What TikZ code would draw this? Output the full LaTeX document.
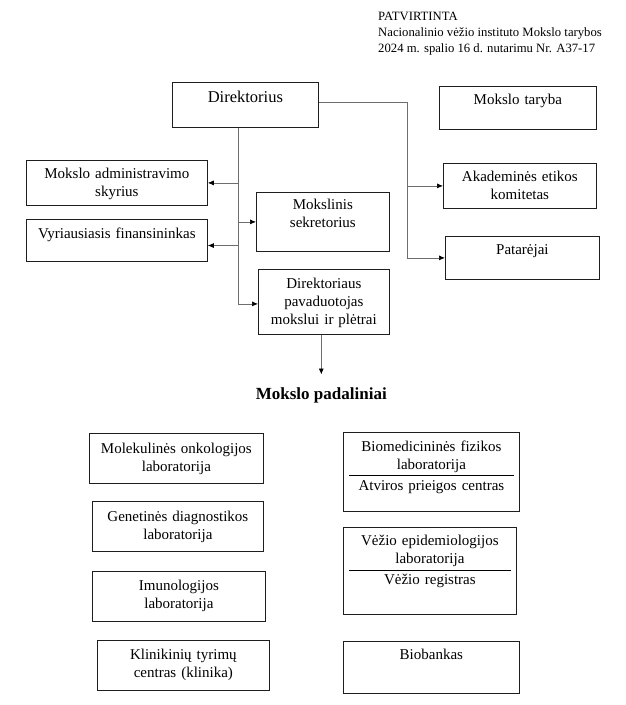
\documentclass[tikz,border=0pt]{standalone}
\usepackage{fontspec}
\setmainfont{Liberation Serif}
\usepackage{xcolor}
\usepackage{tikz}
\usetikzlibrary{arrows.meta, positioning, calc}
\definecolor{boxline}{RGB}{30, 30, 30}
\definecolor{linkgray}{RGB}{110, 110, 110}
\tikzstyle{box} = [
    rectangle,
    draw=boxline,
    line width=0.8pt,
    align=center,
    anchor=north west,
    inner xsep=0pt,
    inner ysep=0pt,
    font=\fontsize{15}{18}\selectfont
]
\tikzstyle{link} = [
    line width=0.7pt,
    color=linkgray
]
\tikzstyle{arrow} = [
    link,
    -{Latex[length=6pt, width=5pt, color=black]}
]
\tikzstyle{sepline} = [
    line width=0.7pt,
    color=black
]

\begin{document}
\begin{tikzpicture}[x=1pt, y=-1pt]
        \useasboundingbox (0,0) rectangle (626,705);
        % Approval note
        \node[anchor=base west, align=left, inner sep=0pt, font=\fontsize{12.7}{16.2}\selectfont] (approval) at (378,52.6)
            {PATVIRTINTA\\Nacionalinio vėžio instituto Mokslo tarybos\\2024 m. spalio 16 d. nutarimu Nr. A37-17};

        % Management
        \node[box, text width=146pt, text height=19.7pt, text depth=25.3pt, font=\fontsize{16.5}{20}\selectfont] (director) at (172,82) {Direktorius};
        \node[box, text width=157pt, text height=18pt, text depth=25pt] (council) at (439,86) {Mokslo taryba};
        \node[box, text width=153pt, text height=18.2pt, text depth=26.8pt] (ethics) at (443,163) {Akademinės etikos\\komitetas};
        \node[box, text width=154pt, text height=18.5pt, text depth=24.5pt] (advisers) at (445,236) {Patarėjai};
        \node[box, text width=181pt, text height=18.5pt, text depth=26.5pt] (admin) at (26,160) {Mokslo administravimo\\skyrius};
        \node[box, text width=181pt, text height=19.2pt, text depth=22.5pt] (finance) at (26,219.3) {Vyriausiasis finansininkas};
        \node[box, text width=133pt, text height=17.5pt, text depth=41.5pt] (secretary) at (256,192) {Mokslinis\\sekretorius};
        \node[box, text width=131pt, text height=19.5pt, text depth=45.5pt] (deputy) at (258,269) {Direktoriaus\\pavaduotojas\\mokslui ir plėtrai};

        % Research units
        \node[anchor=base, inner sep=0pt, text height=12pt, text depth=4pt, outer ysep=13pt, font=\bfseries\fontsize{17}{20}\selectfont] (units) at (321.3,399.5) {Mokslo padaliniai};
        \node[box, text width=174pt, text height=19.8pt, text depth=30.2pt] (molec) at (89,433) {Molekulinės onkologijos\\laboratorija};
        \node[box, text width=171pt, text height=20.2pt, text depth=29.8pt] (genetic) at (92,501) {Genetinės diagnostikos\\laboratorija};
        \node[box, text width=173pt, text height=19.2pt, text depth=30.8pt] (immuno) at (92,571) {Imunologijos\\laboratorija};
        \node[box, text width=172pt, text height=19.5pt, text depth=30.5pt] (clinic) at (97,640) {Klinikinių tyrimų\\centras (klinika)};
        \node[box, text width=176pt, text height=19.2pt, text depth=59.8pt] (biomed) at (343,432) {Biomedicininės fizikos\\laboratorija\\[3pt]Atviros prieigos centras};
        \node[box, text width=173pt, text height=18.5pt, text depth=68.5pt] (epidem) at (343,527) {Vėžio epidemiologijos\\laboratorija\\[3pt]Vėžio registras};
        \node[box, text width=176pt, text height=18.5pt, text depth=33.5pt] (biobank) at (343,641) {Biobankas};

        % Separators
        \draw[sepline] ([xshift=6pt, yshift=-43pt]biomed.north west) -- ([xshift=-6pt, yshift=-43pt]biomed.north east);
        \draw[sepline] ([xshift=6pt, yshift=-43pt]epidem.north west) -- ([xshift=-6pt, yshift=-43pt]epidem.north east);

        % Arrows
        \coordinate (ltrunk) at ([xshift=-7.3pt]director.south);
        \coordinate (rtrunk) at ([xshift=89pt, yshift=2.2pt]director.east);
        \coordinate (finarrow) at ([yshift=-5pt]finance.east);
        \draw[arrow] (ltrunk) |- ([yshift=-2pt]deputy.west);
        \draw[arrow] (ltrunk |- admin.east) -- (admin.east);
        \draw[arrow] (ltrunk |- secretary.west) -- (secretary.west);
        \draw[arrow] (ltrunk |- finarrow) -- (finarrow);
        \draw[arrow] ([yshift=2.2pt]director.east) -- (rtrunk) |- (advisers.west);
        \draw[arrow] (rtrunk |- ethics.west) -- (ethics.west);
        \draw[arrow] (units.north |- deputy.south) -- (units.north);
    \end{tikzpicture}
\end{document}
